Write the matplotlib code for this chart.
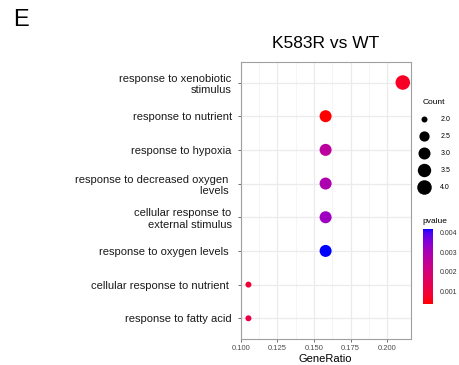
import numpy as np
import matplotlib.pyplot as plt
from matplotlib.colors import ListedColormap, Normalize
from matplotlib.lines import Line2D

plt.rcParams['font.family'] = ['Liberation Sans', 'DejaVu Sans']

# data (top row first)
terms = ['response to xenobiotic\nstimulus',
         'response to nutrient',
         'response to hypoxia',
         'response to decreased oxygen \nlevels ',
         'cellular response to\nexternal stimulus',
         'response to oxygen levels ',
         'cellular response to nutrient ',
         'response to fatty acid']
counts = [4, 3, 3, 3, 3, 3, 2, 2]
gene_ratio = [4/19, 3/19, 3/19, 3/19, 3/19, 3/19, 2/19, 2/19]
pvalue = [0.00065, 0.00033, 0.0026, 0.0029, 0.0032, 0.0042, 0.0009, 0.0011]
legend_counts = [2.0, 2.5, 3.0, 3.5, 4.0]
x_ticks = [0.100, 0.125, 0.150, 0.175, 0.200]
cbar_ticks = [0.001, 0.002, 0.003, 0.004]


def hex2rgb(h):
    h = h.lstrip('#')
    return np.array([int(h[i:i+2], 16) / 255 for i in (0, 2, 4)])

M = np.array([[0.4124, 0.3576, 0.1805],
              [0.2126, 0.7152, 0.0722],
              [0.0193, 0.1192, 0.9505]])
WHITE = np.array([0.95047, 1.0, 1.08883])

def rgb2lab(c):
    lin = np.where(c <= 0.04045, c / 12.92, ((c + 0.055) / 1.055) ** 2.4)
    xyz = M @ lin / WHITE
    f = np.where(xyz > 0.008856, np.cbrt(xyz), 7.787 * xyz + 16 / 116)
    return np.array([116 * f[1] - 16, 500 * (f[0] - f[1]), 200 * (f[1] - f[2])])

def lab2rgb(lab):
    L, a, b = lab
    fy = (L + 16) / 116
    f = np.array([fy + a / 500, fy, fy - b / 200])
    xyz = np.where(f ** 3 > 0.008856, f ** 3, (f - 16 / 116) / 7.787) * WHITE
    lin = np.linalg.solve(M, xyz)
    lin = np.clip(lin, 0, 1)
    c = np.where(lin <= 0.0031308, 12.92 * lin, 1.055 * lin ** (1 / 2.4) - 0.055)
    return np.clip(c, 0, 1)

# ggplot-like gradient red -> blue interpolated in Lab
lab_lo, lab_hi = rgb2lab(hex2rgb('#ff0000')), rgb2lab(hex2rgb('#0000ff'))
cmap = ListedColormap([lab2rgb(lab_lo + t * (lab_hi - lab_lo)) for t in np.linspace(0, 1, 256)])
norm = Normalize(min(pvalue), max(pvalue))


def size_pt(c):
    # ggplot area scale, range 1..6, converted to marker diameter in points
    s = 1 + 5 * np.sqrt((np.asarray(c, float) - 2) / 2)
    return (1.7 * s + 4.3) * 0.72


fig = plt.figure(figsize=(4.6, 3.65), dpi=100)
ax = fig.add_axes([0.5233, 0.0726, 0.3691, 0.7567])

ypos = np.arange(len(terms))
ax.scatter(gene_ratio, ypos, s=size_pt(counts) ** 2, c=pvalue, cmap=cmap, norm=norm,
           linewidths=0, zorder=3)

ax.set_ylim(len(terms) - 0.4, -0.6)
ax.set_xlim(0.100, 0.2158)
ax.set_yticks(ypos)
ax.set_yticklabels(terms, fontsize=8, color='#1a1a1a')
for lab in ax.get_yticklabels():
    lab.set_multialignment('right')
ax.set_xticks(x_ticks)
ax.set_xticklabels(['%.3f' % t for t in x_ticks], fontsize=5.5, color='#4d4d4d')
ax.set_xticks(np.array(x_ticks[:-1]) + 0.0125, minor=True)
ax.tick_params(axis='both', which='major', length=2.5, width=0.6, color='#555555', pad=2)
ax.tick_params(axis='y', which='major', pad=4)
ax.tick_params(axis='x', which='minor', length=0)
ax.grid(True, which='major', color='#ebebeb', lw=0.9, zorder=0)
ax.grid(True, which='minor', axis='x', color='#f2f2f2', lw=0.5, zorder=0)
ax.set_axisbelow(True)
for sp in ax.spines.values():
    sp.set_color('#a0a0a0')
    sp.set_linewidth(0.8)
ax.set_xlabel('GeneRatio', fontsize=8, labelpad=1.5)
ax.set_title('K583R vs WT', fontsize=12.5, pad=10)

fig.text(0.028, 0.975, 'E', fontsize=17, va='top', ha='left')

# size legend
handles = [Line2D([], [], ls='none', marker='o', color='black', markeredgewidth=0,
                  markersize=size_pt(v)) for v in legend_counts]
leg = fig.legend(handles, ['%.1f' % v for v in legend_counts], title='Count',
                 loc='upper left', bbox_to_anchor=(0.912, 0.738), frameon=False,
                 fontsize=5, title_fontsize=6, labelspacing=1.45, handlelength=0.2,
                 handletextpad=2.3, borderpad=0, alignment='left')

# colour bar
cax = fig.add_axes([0.919, 0.167, 0.0217, 0.2055])
cb = fig.colorbar(plt.cm.ScalarMappable(norm=norm, cmap=cmap), cax=cax, ticks=cbar_ticks)
cb.outline.set_visible(False)
cb.ax.set_yticklabels(['%.3f' % t for t in cbar_ticks], fontsize=5, color='#333333')
cb.ax.tick_params(length=2, color='white', width=0.6, pad=3)
cb.ax.set_title('pvalue', fontsize=6, loc='left', pad=4)

fig.savefig('out.png', dpi=100)
